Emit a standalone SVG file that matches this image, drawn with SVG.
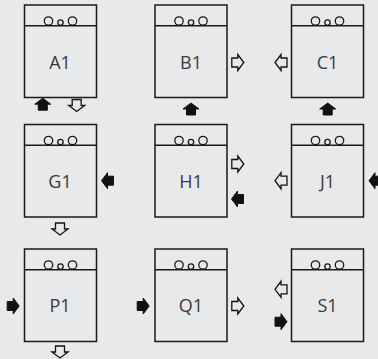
<svg xmlns="http://www.w3.org/2000/svg" xmlns:xlink="http://www.w3.org/1999/xlink" width="378" height="359" viewBox="0 0 378 359">
<style>
.box{fill:none;stroke:#1a1a1a;stroke-width:1.5}
.div{stroke:#1a1a1a;stroke-width:1.5}
.c{fill:none;stroke:#1a1a1a;stroke-width:1.3}
.lbl{font-family:"Open Sans","Liberation Sans",sans-serif;font-size:18px;fill:#3a3a3a;text-anchor:middle}
.pf{fill:#111;stroke:#111;stroke-width:1;stroke-linejoin:round}
.ph{fill:none;stroke:#111;stroke-width:1.3;stroke-linejoin:miter}
</style>
<defs>
<path id="ar" d="M-6,-4.5 H0 V-8 L6,0 L0,8 V4.5 H-6 Z"/>
<g id="hdr">
<circle class="c" cx="-12" cy="16" r="4.2"/>
<circle class="c" cx="0" cy="17.6" r="2.7"/>
<circle class="c" cx="12" cy="16" r="4.2"/>
</g>
</defs>
<rect width="378" height="359" fill="#e8e9ea"/>

<g id="A1">
<rect class="box" x="24.5" y="5" width="72" height="92.5"/>
<line class="div" x1="24.5" y1="25.7" x2="96.5" y2="25.7"/>
<use xlink:href="#hdr" transform="translate(60.5,5)"/>
<text class="lbl" x="60" y="69">A1</text>
<use xlink:href="#ar" class="pf" transform="translate(42.8,104.2) rotate(-90)"/>
<use xlink:href="#ar" class="ph" transform="translate(76.7,105.5) rotate(90)"/>
</g>

<g id="B1">
<rect class="box" x="155" y="5" width="72" height="92.5"/>
<line class="div" x1="155" y1="25.7" x2="227" y2="25.7"/>
<use xlink:href="#hdr" transform="translate(191,5)"/>
<text class="lbl" x="191" y="69">B1</text>
<use xlink:href="#ar" class="ph" transform="translate(237.8,62.5)"/>
<use xlink:href="#ar" class="pf" transform="translate(191,109) rotate(-90)"/>
</g>

<g id="C1">
<rect class="box" x="291.5" y="5" width="72" height="92.5"/>
<line class="div" x1="291.5" y1="25.7" x2="363.5" y2="25.7"/>
<use xlink:href="#hdr" transform="translate(327.5,5)"/>
<text class="lbl" x="327.5" y="69">C1</text>
<use xlink:href="#ar" class="ph" transform="translate(281,62.5) rotate(180)"/>
<use xlink:href="#ar" class="pf" transform="translate(327.7,109) rotate(-90)"/>
</g>

<g id="G1">
<rect class="box" x="24.5" y="124.5" width="72" height="92.5"/>
<line class="div" x1="24.5" y1="145.2" x2="96.5" y2="145.2"/>
<use xlink:href="#hdr" transform="translate(60.5,124.5)"/>
<text class="lbl" x="60" y="187.5">G1</text>
<use xlink:href="#ar" class="pf" transform="translate(107.5,180.7) rotate(180)"/>
<use xlink:href="#ar" class="ph" transform="translate(60,229) rotate(90)"/>
</g>

<g id="H1">
<rect class="box" x="155" y="124.5" width="72" height="92.5"/>
<line class="div" x1="155" y1="145.2" x2="227" y2="145.2"/>
<use xlink:href="#hdr" transform="translate(191,124.5)"/>
<text class="lbl" x="191" y="187.5">H1</text>
<use xlink:href="#ar" class="ph" transform="translate(237.8,164)"/>
<use xlink:href="#ar" class="pf" transform="translate(237.5,199) rotate(180)"/>
</g>

<g id="J1">
<rect class="box" x="291.5" y="124.5" width="72" height="92.5"/>
<line class="div" x1="291.5" y1="145.2" x2="363.5" y2="145.2"/>
<use xlink:href="#hdr" transform="translate(327.5,124.5)"/>
<text class="lbl" x="327.5" y="187.5">J1</text>
<use xlink:href="#ar" class="ph" transform="translate(281,180.7) rotate(180)"/>
<use xlink:href="#ar" class="pf" transform="translate(375,180.7) rotate(180)"/>
</g>

<g id="P1">
<rect class="box" x="24.5" y="249" width="72" height="92.5"/>
<line class="div" x1="24.5" y1="269.7" x2="96.5" y2="269.7"/>
<use xlink:href="#hdr" transform="translate(60.5,249)"/>
<text class="lbl" x="60" y="312.3">P1</text>
<use xlink:href="#ar" class="pf" transform="translate(13.2,306)"/>
<use xlink:href="#ar" class="ph" transform="translate(60,352) rotate(90)"/>
</g>

<g id="Q1">
<rect class="box" x="155" y="249" width="72" height="92.5"/>
<line class="div" x1="155" y1="269.7" x2="227" y2="269.7"/>
<use xlink:href="#hdr" transform="translate(191,249)"/>
<text class="lbl" x="191" y="312.3">Q1</text>
<use xlink:href="#ar" class="pf" transform="translate(143.2,306)"/>
<use xlink:href="#ar" class="ph" transform="translate(237.8,306)"/>
</g>

<g id="S1">
<rect class="box" x="291.5" y="249" width="72" height="92.5"/>
<line class="div" x1="291.5" y1="269.7" x2="363.5" y2="269.7"/>
<use xlink:href="#hdr" transform="translate(327.5,249)"/>
<text class="lbl" x="327.5" y="312.3">S1</text>
<use xlink:href="#ar" class="ph" transform="translate(281,289.3) rotate(180)"/>
<use xlink:href="#ar" class="pf" transform="translate(281,321.7)"/>
</g>

<g id="connectors"></g>
</svg>
